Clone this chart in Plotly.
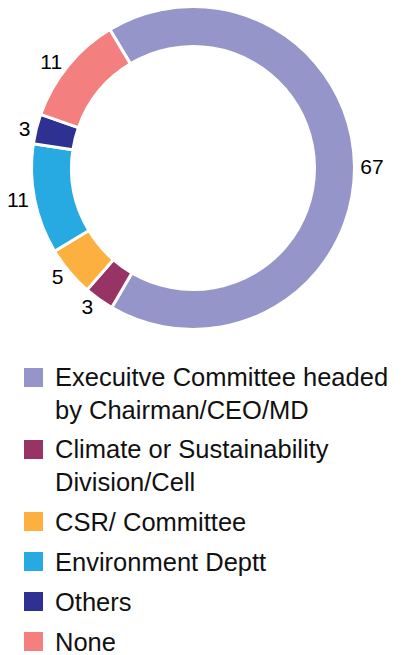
import textwrap
import plotly.graph_objects as go

categories = [
    "Execuitve Committee headed by Chairman/CEO/MD",
    "Climate or Sustainability Division/Cell",
    "CSR/ Committee",
    "Environment Deptt",
    "Others",
    "None",
]
values = [67, 3, 5, 11, 3, 11]
colors = ["#9595C9", "#983366", "#FBB040", "#27AAE1", "#2E3192", "#F47F7F"]

W, H = 406, 655
FONT = "Liberation Sans, Arial, Helvetica, sans-serif"

# donut geometry (pixels)
cx, cy, r_out, r_in = 193, 168, 161.5, 121.5

fig = go.Figure(
    go.Pie(
        labels=categories,
        values=values,
        sort=False,
        direction="clockwise",
        rotation=-31,
        hole=r_in / r_out,
        marker=dict(colors=colors, line=dict(color="white", width=3)),
        textinfo="value",
        textposition="outside",
        textfont=dict(family=FONT, size=21, color="#000000"),
        showlegend=False,
        hoverinfo="label+value",
        domain=dict(
            x=[(cx - r_out) / W, (cx + r_out) / W],
            y=[1 - (cy + r_out) / H, 1 - (cy - r_out) / H],
        ),
    )
)

# custom legend
shapes = []
annotations = []
sq = 19
top = 368
fs = 25.5
line_h = 1.3 * fs
for cat, col in zip(categories, colors):
    lines = textwrap.wrap(cat, width=26)
    shapes.append(
        dict(
            type="rect", xref="paper", yref="paper",
            x0=24 / W, x1=(24 + sq) / W,
            y0=1 - top / H, y1=1 - (top + sq) / H,
            fillcolor=col, line=dict(width=0),
        )
    )
    yc = top + sq / 2 + (len(lines) - 1) * 31.5 / 2
    annotations.append(
        dict(
            text="<br>".join(lines), xref="paper", yref="paper",
            x=53 / W, y=1 - yc / H, xanchor="left", yanchor="middle",
            align="left", showarrow=False,
            font=dict(family=FONT, size=fs, color="#111111"),
        )
    )
    top += 40 + 32 * (len(lines) - 1)

fig.update_layout(
    width=W, height=H,
    margin=dict(l=0, r=0, t=0, b=0),
    paper_bgcolor="white", plot_bgcolor="white",
    shapes=shapes, annotations=annotations,
)

fig.write_html("out.html")
